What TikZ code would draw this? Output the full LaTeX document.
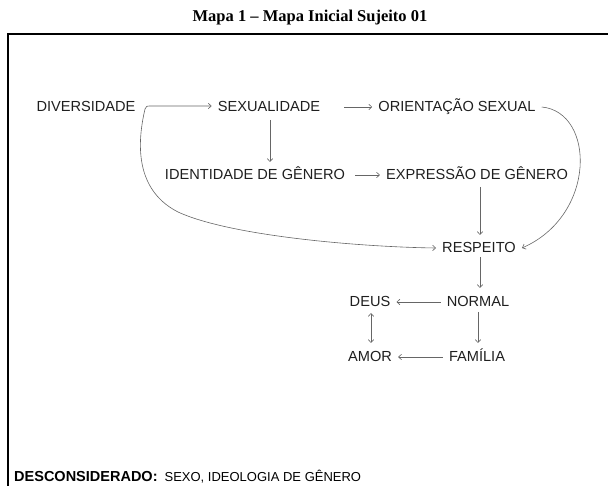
\documentclass[tikz,border=0pt]{standalone}
\usepackage{fontspec}
\setmainfont{Liberation Sans}
\newfontfamily\titulofont{Liberation Serif}
\usetikzlibrary{arrows.meta}

\tikzset{
	conceito/.style={font=\fontsize{14.6}{16}\selectfont, text=black!88, inner xsep=6pt, inner ysep=6pt, text height=10pt, text depth=0pt},
	liga/.style={draw=black!60, line width=0.6pt, -{Straight Barb[length=3pt,width=5.5pt]}},
	titulo/.style={font=\titulofont\bfseries\fontsize{16.5}{18}\selectfont, inner sep=0pt, anchor=base},
}

\begin{document}
\begin{tikzpicture}[x=1pt,y=-1pt]
	\useasboundingbox (0,0) rectangle (608,486);
	\node[titulo] (tit) at (310,22) {Mapa 1 – Mapa Inicial Sujeito 01};
	\draw[line width=1.8pt] (8,486) -- (8,34) -- (608,34);
	% conceitos
	\node[conceito] at (86,107) (div) {DIVERSIDADE};
	\node[conceito] at (269,107) (sex) {SEXUALIDADE};
	\node[conceito] at (457,107) (ori) {ORIENTAÇÃO SEXUAL};
	\node[conceito] at (255,175) (ident) {IDENTIDADE DE GÊNERO};
	\node[conceito] at (477,175) (expr) {EXPRESSÃO DE GÊNERO};
	\node[conceito] at (479,248) (resp) {RESPEITO};
	\node[conceito] at (478,302) (normal) {NORMAL};
	\node[conceito] at (370,302) (deus) {DEUS};
	\node[conceito] at (477,357) (fam) {FAMÍLIA};
	\node[conceito] at (370,357) (amor) {AMOR};
	\coordinate (raiz) at (145,109);
	% ligacoes
	\draw[liga] (raiz) .. controls (146,106) .. (153,106) -- (sex.west|-0,106);
	\draw[liga] (raiz) .. controls (139,135) and (131,188) .. (178,212) .. controls (230,236) and (360,247) .. (resp.west);
	\draw[liga] ([xshift=18pt]sex.east) -- (ori.west);
	\draw[liga] (270,120) -- (270,162);
	\draw[liga] ([xshift=4pt]ident.east) -- (expr.west);
	\draw[liga] (480,187) -- (480,235);
	\draw[liga] (480,257) -- (480,288);
	\draw[liga] (normal) -- (deus);
	\draw[liga] (478,312) -- (478,343);
	\draw[liga] (fam) -- (amor);
	\draw[liga, {Straight Barb[length=3pt,width=5.5pt]}-{Straight Barb[length=3pt,width=5.5pt]}] (371,313) -- (371,343);
	\draw[liga] (ori.east) .. controls (595,112) and (597,215) .. (resp.east);
	\node[anchor=base west, inner sep=0pt] (desc) at (14,481) {\fontsize{14.5}{16}\selectfont\bfseries DESCONSIDERADO:\hspace{7pt}\mdseries\fontsize{13}{15}\selectfont SEXO, IDEOLOGIA DE GÊNERO};
\end{tikzpicture}
\end{document}
